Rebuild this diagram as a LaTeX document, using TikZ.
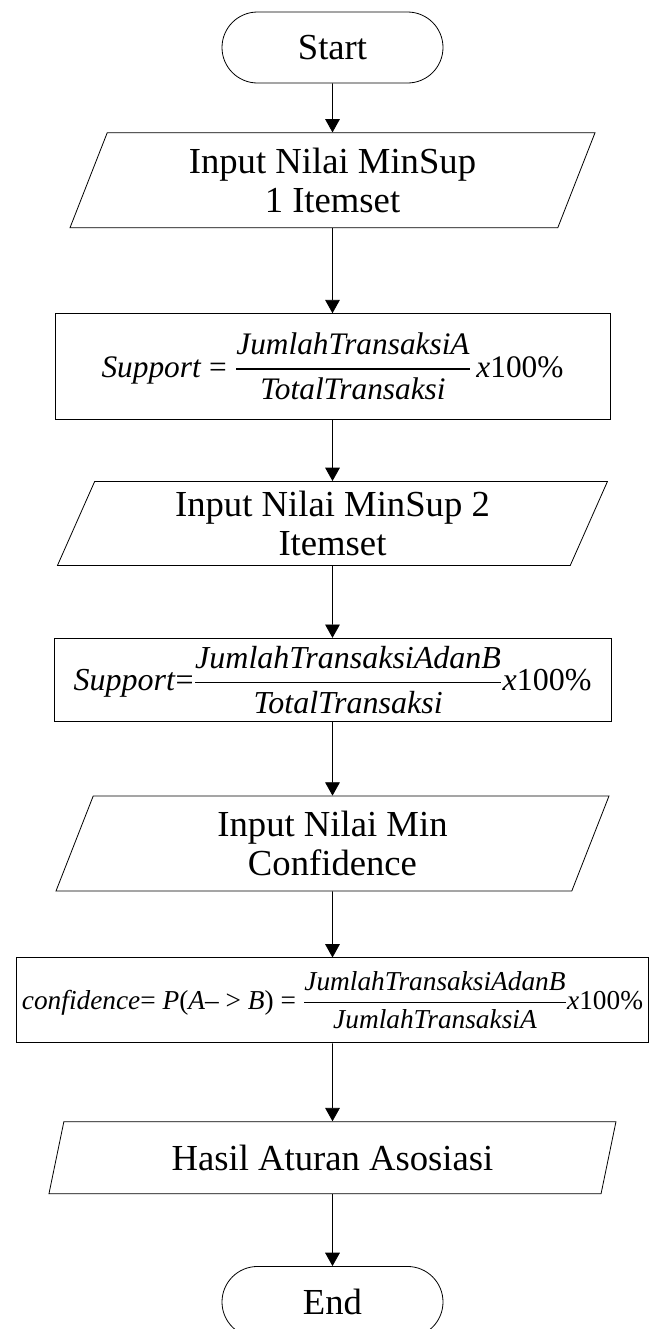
\documentclass[tikz,border=0pt]{standalone}
\usepackage{amsmath}
\usepackage{fontspec}
\setmainfont{Liberation Serif}
\usetikzlibrary{arrows.meta,positioning,shapes.geometric,shapes.misc}

\begin{document}
\begin{tikzpicture}[
    terminal/.style={draw, rounded rectangle, minimum width=165.75pt, minimum height=53.25pt, inner sep=0pt, font=\fontsize{27.5}{29}\selectfont},
    io/.style={draw, trapezium, trapezium left angle=60, trapezium right angle=120, trapezium stretches body, inner sep=0pt, align=center, font=\fontsize{27.5}{29}\selectfont},
    proc/.style={draw, rectangle, inner sep=0pt, align=center},
    line width=0.6pt,
    >={Triangle[length=10pt,width=11pt]}
]
\useasboundingbox (0,0) rectangle (486.75pt,-996.75pt);
\node[terminal] (start) at (249.375pt,-35.625pt) {Start};
\node[io, below=36.75pt of start, minimum width=393.75pt, minimum height=71.25pt] (minsup1) {Input Nilai MinSup\\1 Itemset};
\node[proc, below=63.75pt of minsup1, minimum width=416.25pt, minimum height=79.5pt, font=\fontsize{23.5}{26}\selectfont] (sup1)
    {\textit{Support} = $\dfrac{\textit{JumlahTransaksiA}}{\textit{TotalTransaksi}}$\,\textit{x}100\%};
\node[io, below=45.75pt of sup1, minimum width=412.5pt, minimum height=63pt] (minsup2) {Input Nilai MinSup 2\\Itemset};
\node[proc, below=54pt of minsup2, minimum width=417.75pt, minimum height=62.25pt, font=\fontsize{24}{26}\selectfont] (sup2)
    {\textit{Support}=$\dfrac{\textit{JumlahTransaksiAdanB}}{\textit{TotalTransaksi}}$\textit{x}100\%};
\node[io, below=55.5pt of sup2, minimum width=414.75pt, minimum height=71.25pt] (minconf) {Input Nilai Min\\Confidence};
\node[proc, below=49.5pt of minconf, minimum width=474pt, minimum height=63.75pt, font=\fontsize{20.5}{24}\selectfont] (conf)
    {\textit{confidence}= \textit{P}(\textit{A}– > \textit{B}) = $\dfrac{\textit{JumlahTransaksiAdanB}}{\textit{JumlahTransaksiA}}$\textit{x}100\%};
\node[io, below=58.5pt of conf, minimum width=425.25pt, minimum height=54pt] (hasil) {Hasil Aturan Asosiasi};
\node[terminal, below=54pt of hasil] (end) {End};

\draw[->] (start) -- (minsup1);
\draw[->] (minsup1) -- (sup1);
\draw[->] (sup1) -- (minsup2);
\draw[->] (minsup2) -- (sup2);
\draw[->] (sup2) -- (minconf);
\draw[->] (minconf) -- (conf);
\draw[->] (conf) -- (hasil);
\draw[->] (hasil) -- (end);
\end{tikzpicture}
\end{document}
